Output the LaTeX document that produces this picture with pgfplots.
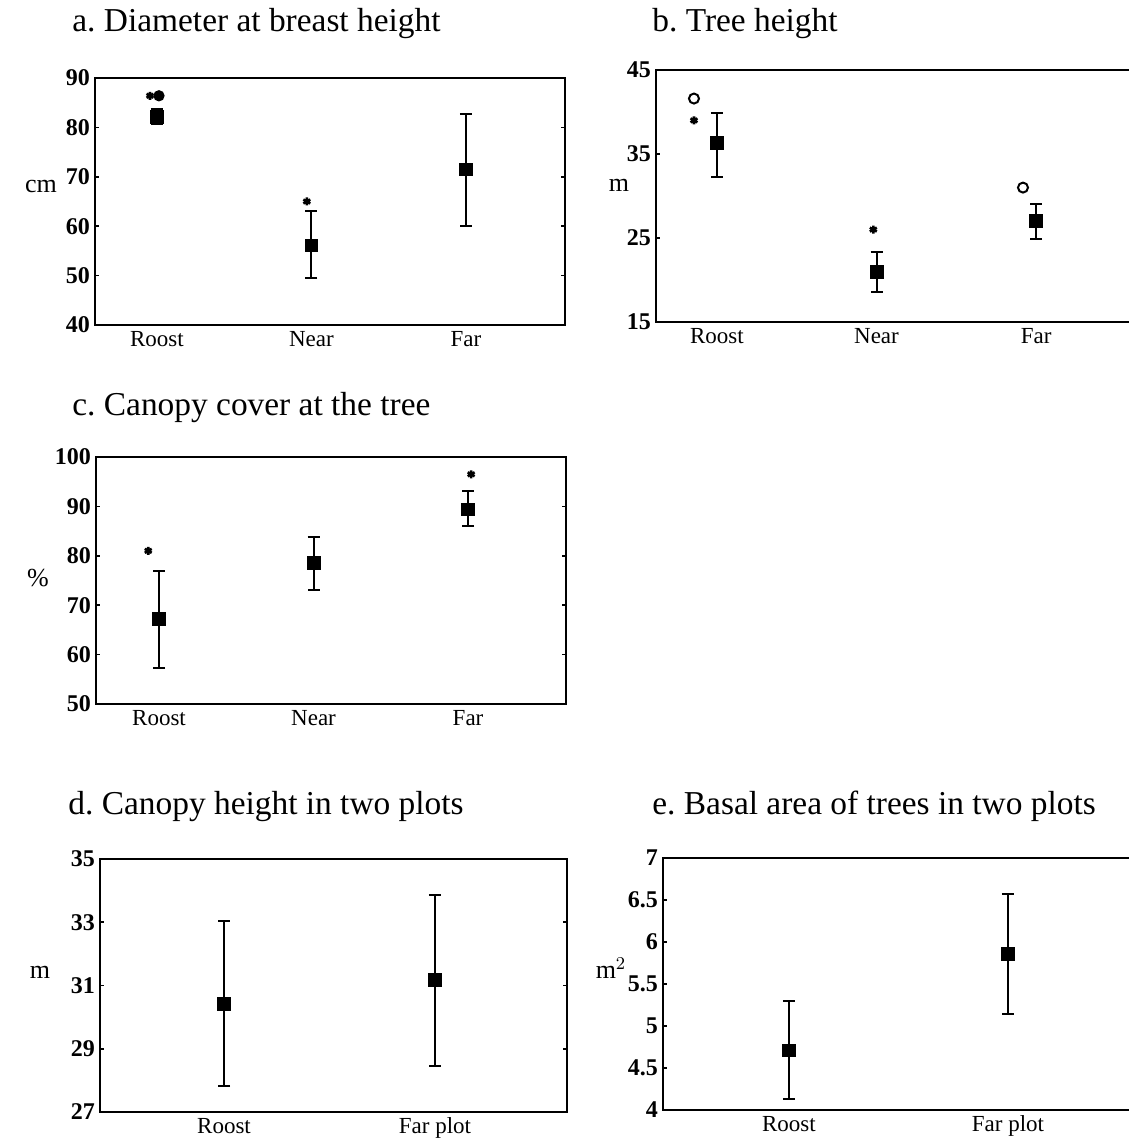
\documentclass[border=0pt]{standalone}
\usepackage{fontspec}
\setmainfont{Liberation Serif}
\usepackage{pgfplots}
\pgfplotsset{compat=1.18}
\frenchspacing
\begin{document}
\begin{tikzpicture}
\pgfplotsset{
  panel/.style={
    scale only axis,
    anchor=south west,
    axis line style={line width=1pt},
    every tick/.style={line width=0.8pt,black},
    major tick length=2pt,
    xtick=data,
    xtick style={draw=none},
    /pgf/number format/assume math mode=true,
    yticklabel style={font=\fontsize{12}{12}\selectfont\bfseries, xshift=1pt},
    xticklabel style={font=\fontsize{11.5}{12}\selectfont, text height=8pt, text depth=2.5pt, yshift=1pt},
    clip=false,
  },
  mn/.style={only marks, mark=square*, mark size=3.2pt, black,
    error bars/.cd, y dir=both, y explicit,
    error bar style={line width=1pt, black},
    error mark options={rotate=90, mark size=3pt, line width=1pt, black}},
  st/.style={only marks, mark=asterisk, mark size=2pt, black, mark options={line width=1.3pt}},
  ci/.style={only marks, mark=o, mark size=2.5pt, black, mark options={line width=1pt}},
}
% ---- a ----
\begin{axis}[panel, at={(47.5pt,408.5pt)}, width=235pt, height=123.5pt,
  xmin=-0.401, xmax=2.641, ymin=40, ymax=90, ytick={40,50,...,90},
  xticklabels={Roost,Near,Far}]
\addplot[mn] coordinates {(0,82.2) +=(0,1.6) -=(0,1.5) (1,56.1) +=(0,6.9) -=(0,6.6) (2,71.5) +=(0,11.3) -=(0,11.4)};
\addplot[st] coordinates {(-0.045,86.4) (0.97,65.0)};
\addplot[ci, mark=*, mark size=2.3pt] coordinates {(0.013,86.4)};
\end{axis}
% ---- b ----
\begin{axis}[panel, at={(328pt,410pt)}, width=239.5pt, height=126pt,
  xmin=-0.382, xmax=2.62, ymin=15, ymax=45, ytick={15,25,35,45},
  xticklabels={Roost,Near,Far}]
\addplot[mn] coordinates {(0,36.3) +=(0,3.6) -=(0,4.0) (1,21.0) +=(0,2.3) -=(0,2.4) (2,27.0) +=(0,2.0) -=(0,2.1)};
\addplot[st] coordinates {(-0.144,39.0) (0.98,26.0)};
\addplot[ci] coordinates {(-0.144,41.6) (1.918,31.0)};
\end{axis}
% ---- c ----
\begin{axis}[panel, at={(48pt,219pt)}, width=235pt, height=123.5pt,
  xmin=-0.408, xmax=2.634, ymin=50, ymax=100, ytick={50,60,...,100},
  xticklabels={Roost,Near,Far}]
\addplot[mn] coordinates {(0,67.2) +=(0,9.7) -=(0,9.9) (1,78.5) +=(0,5.3) -=(0,5.4) (2,89.4) +=(0,3.7) -=(0,3.4)};
\addplot[st] coordinates {(-0.07,81.0) (2.02,96.5)};
\end{axis}
% ---- d ----
\begin{axis}[panel, at={(50pt,15pt)}, width=233.5pt, height=126.5pt,
  xmin=-0.588, xmax=1.626, ymin=27, ymax=35, ytick={27,29,31,33,35},
  xticklabels={Roost,Far plot}]
\addplot[mn] coordinates {(0,30.43) +=(0,2.61) -=(0,2.62) (1,31.17) +=(0,2.70) -=(0,2.71)};
\end{axis}
% ---- e ----
\begin{axis}[panel, at={(331.5pt,16pt)}, width=236pt, height=126pt,
  xmin=-0.575, xmax=1.58, ymin=4, ymax=7, ytick={4,4.5,...,7},
  xticklabels={Roost,Far plot}]
\addplot[mn] coordinates {(0,4.71) +=(0,0.59) -=(0,0.58) (1,5.86) +=(0,0.71) -=(0,0.72)};
\end{axis}
% titles
\begin{scope}[every node/.style={font=\fontsize{16.7}{17}\selectfont, inner sep=0pt}]
\node[anchor=base west] at (36pt,555pt) {a. Diameter at breast height};
\node[anchor=base west] at (326pt,555pt) {b. Tree height};
\node[anchor=base west] at (36pt,363pt) {c. Canopy cover at the tree};
\node[anchor=base west] at (34pt,163.5pt) {d. Canopy height in two plots};
\node[anchor=base west] at (326pt,163.5pt) {e. Basal area of trees in two plots};
\end{scope}
% y labels
\begin{scope}[every node/.style={font=\fontsize{13}{13}\selectfont, inner sep=0pt}]
\node at (20.5pt,477.5pt) {cm};
\node at (309.5pt,478.5pt) {m};
\node at (19pt,282pt) {\%};
\node at (20pt,85pt) {m};
\node at (305.5pt,87pt) {m$^2$};
\end{scope}
\pgfresetboundingbox
\useasboundingbox (0pt,0pt) rectangle (564.5pt,571pt);
\end{tikzpicture}
\end{document}
